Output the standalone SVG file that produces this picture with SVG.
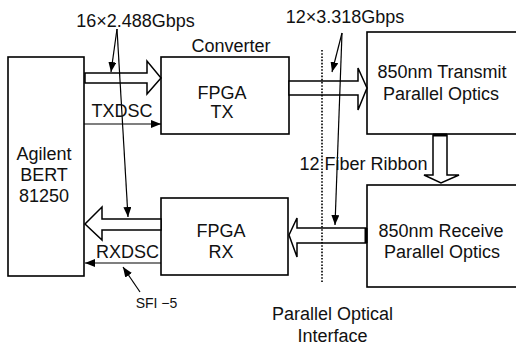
<svg xmlns="http://www.w3.org/2000/svg" width="516" height="346" viewBox="0 0 516 346">
<defs>
<marker id="ah" markerUnits="userSpaceOnUse" markerWidth="11" markerHeight="8" refX="10" refY="4" orient="auto">
<path d="M0,0 L10,4 L0,8 z" fill="#000"/>
</marker>
<style>
.box{fill:#fff;stroke:#000;stroke-width:1.6}
.ha{fill:#fff;stroke:#000;stroke-width:1.5;stroke-linejoin:miter}
.ln{fill:none;stroke:#000;stroke-width:1.2}
.dot{fill:none;stroke:#000;stroke-width:1.6;stroke-dasharray:1.6,1.6}
text{font-family:"Liberation Sans",Arial,sans-serif;font-size:18px;fill:#111;text-anchor:middle}
.sm{font-size:14px}
</style>
</defs>
<rect width="516" height="346" fill="#fff"/>
<g id="agilent">
<rect class="box" x="8" y="57" width="76" height="219"/>
<text x="44" y="160">Agilent</text>
<text x="44" y="181">BERT</text>
<text x="44" y="202">81250</text>
</g>
<g id="fpga-tx">
<rect class="box" x="161" y="57" width="128" height="77"/>
<text x="222" y="99">FPGA</text>
<text x="222" y="118">TX</text>
<text x="231" y="52">Converter</text>
</g>
<g id="tx-optics">
<rect class="box" x="367" y="32" width="160" height="102"/>
<text x="442" y="78">850nm Transmit</text>
<text x="441" y="100">Parallel Optics</text>
</g>
<g id="rx-optics">
<rect class="box" x="367" y="185" width="160" height="102"/>
<text x="441" y="237">850nm Receive</text>
<text x="442" y="258">Parallel Optics</text>
</g>
<g id="fpga-rx">
<rect class="box" x="161" y="198" width="127" height="77"/>
<text x="221" y="237">FPGA</text>
<text x="221" y="258">RX</text>
</g>
<g id="connectors">
<polygon class="ha" points="85,73 147,73 147,61 161,78 147,94 147,83 85,83"/>
<polygon class="ha" points="289,81 358,81 358,68 367,88 358,110 358,95 289,95"/>
<polygon class="ha" points="366,228 297,228 297,218 289,235 297,257 297,243 366,243"/>
<line x1="366" y1="228" x2="366" y2="243" stroke="#000" stroke-width="3"/>
<polygon class="ha" points="161,219 102,219 102,207 85,224 102,240 102,230 161,230"/>
<polygon class="ha" points="433,135 433,175 424,175 441,183 459,175 447,175 447,135"/>
<line x1="433" y1="135" x2="447" y2="135" stroke="#000" stroke-width="3"/>
<line class="ln" x1="84" y1="124" x2="161" y2="124" marker-end="url(#ah)"/>
<line class="ln" x1="161" y1="263" x2="85" y2="263" marker-end="url(#ah)"/>
<line class="dot" x1="322" y1="50" x2="322" y2="283"/>
<line class="ln" x1="117" y1="29" x2="111" y2="72" marker-end="url(#ah)"/>
<line class="ln" x1="117" y1="29" x2="128" y2="217" marker-end="url(#ah)"/>
<line class="ln" x1="342" y1="33" x2="332" y2="72" marker-end="url(#ah)"/>
<line class="ln" x1="342" y1="33" x2="335" y2="225" marker-end="url(#ah)"/>
<line class="ln" x1="140" y1="292" x2="123" y2="267" marker-end="url(#ah)"/>
</g>
<g id="labels">
<text x="135.5" y="27">16×2.488Gbps</text>
<text x="345" y="23">12×3.318Gbps</text>
<text x="122" y="117">TXDSC</text>
<text x="127.5" y="258">RXDSC</text>
<text x="363.5" y="170">12 Fiber Ribbon</text>
<text class="sm" x="156.5" y="308">SFI −5</text>
<text x="332.5" y="320">Parallel Optical</text>
<text x="332.5" y="342">Interface</text>
</g>
</svg>
